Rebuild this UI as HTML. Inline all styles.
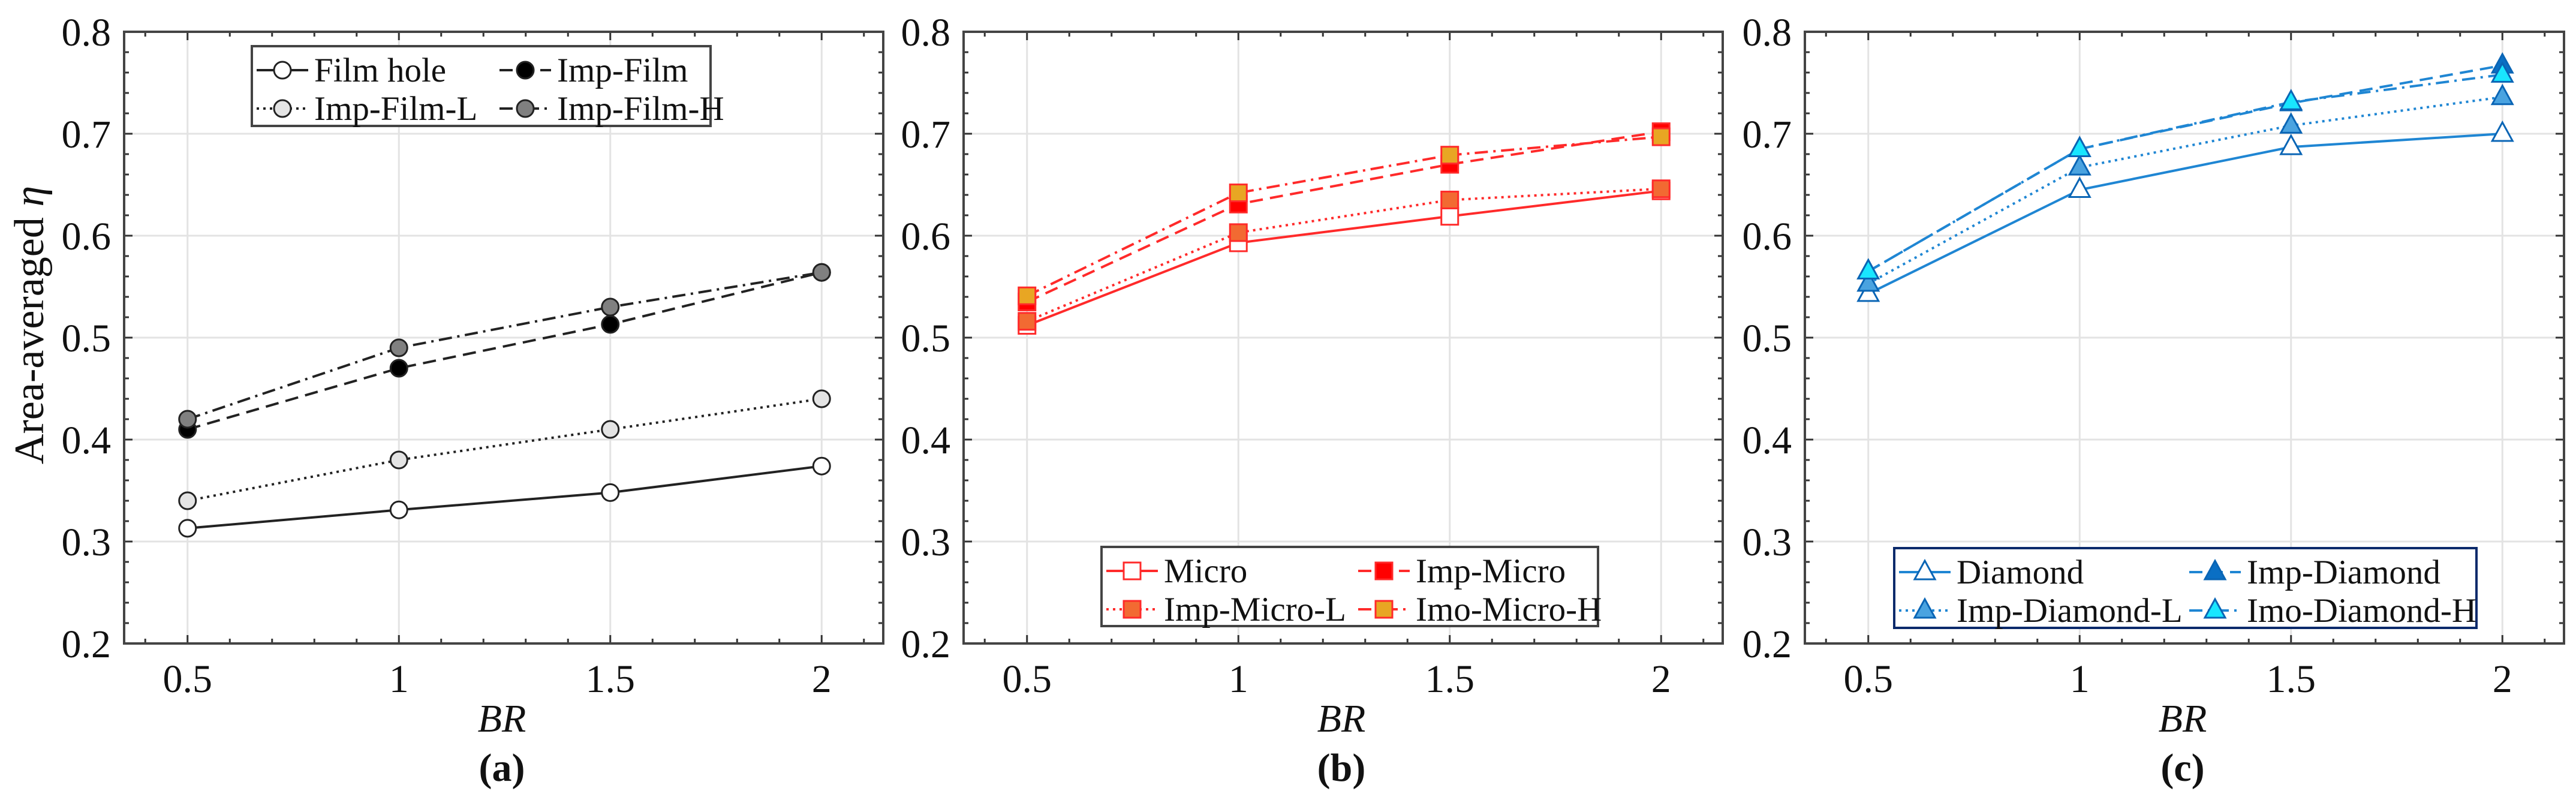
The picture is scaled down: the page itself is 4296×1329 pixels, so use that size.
<!DOCTYPE html>
<html><head><meta charset="utf-8">
<style>
html,body{margin:0;padding:0;background:#fff;}
svg{display:block;font-family:"Liberation Serif",serif;}
</style></head>
<body>
<svg id="fig" width="4296" height="1329" viewBox="0 0 4296 1329" xmlns="http://www.w3.org/2000/svg"></svg>
<script>
const xCats = [0.5, 1, 1.5, 2];
const yTicks = [0.2, 0.3, 0.4, 0.5, 0.6, 0.7, 0.8];
const xTickLabels = ["0.5", "1", "1.5", "2"];
const yTickLabels = ["0.2", "0.3", "0.4", "0.5", "0.6", "0.7", "0.8"];

const filmHole = [0.313, 0.331, 0.348, 0.374];
const impFilm = [0.410, 0.470, 0.513, 0.564];
const impFilmL = [0.340, 0.380, 0.410, 0.440];
const impFilmH = [0.420, 0.490, 0.530, 0.564];

const micro = [0.512, 0.593, 0.619, 0.644];
const impMicro = [0.535, 0.631, 0.670, 0.702];
const impMicroL = [0.516, 0.603, 0.635, 0.646];
const impMicroH = [0.541, 0.642, 0.679, 0.697];

const diamond = [0.543, 0.645, 0.687, 0.700];
const impDiamond = [0.565, 0.685, 0.730, 0.767];
const impDiamondL = [0.553, 0.667, 0.708, 0.736];
const impDiamondH = [0.565, 0.685, 0.731, 0.758];

const NS = "http://www.w3.org/2000/svg";
const svg = document.getElementById("fig");
function mk(tag, attrs, parent){
  const e = document.createElementNS(NS, tag);
  for (const k in attrs) e.setAttribute(k, attrs[k]);
  (parent||svg).appendChild(e);
  return e;
}
const TOP = 53, BOT = 1073, W = 1266;
const XMIN = 0.35, XMAX = 0.35 + W/705, YMIN = 0.2, YMAX = 0.8;
const DASH = {solid:"", dash:"22 12", dot:"4 7", dashdot:"22 9 4 9"};

function marker(g, shape, cx, cy, fill, stroke, name){
  let m;
  if (shape === "circle") m = mk("circle", {cx:cx, cy:cy, r:14, fill:fill, stroke:stroke, "stroke-width":3}, g);
  else if (shape === "square") m = mk("rect", {x:cx-14, y:cy-14, width:28, height:28, fill:fill, stroke:stroke, "stroke-width":3}, g);
  else m = mk("polygon", {points:`${cx},${cy-19} ${cx-17},${cy+12} ${cx+17},${cy+12}`, fill:fill, stroke:stroke, "stroke-width":3}, g);
  
  
  return m;
}

function panel(px, letter, series, legend, showYTitle){
  const g = mk("g", {});
  
  
  const xs = v => px + (v - XMIN) / (XMAX - XMIN) * W;
  const ys = v => BOT - (v - YMIN) / (YMAX - YMIN) * (BOT - TOP);
  yTicks.forEach(t => {
    const l = mk("line", {x1:px, x2:px+W, y1:ys(t), y2:ys(t), stroke:"#e3e3e3", "stroke-width":3}, g);
    
    
  });
  xCats.forEach(t => {
    const l = mk("line", {x1:xs(t), x2:xs(t), y1:TOP, y2:BOT, stroke:"#e3e3e3", "stroke-width":3}, g);
    
    
  });
  for (let v = 0.4; v < XMAX; v += 0.1) {
    const x = xs(v), major = Math.abs(v*2 - Math.round(v*2)) < 1e-6;
    const L = major ? 14 : 8;
    mk("line", {x1:x, x2:x, y1:BOT, y2:BOT-L, stroke:"#333", "stroke-width":3}, g);
    mk("line", {x1:x, x2:x, y1:TOP, y2:TOP+L, stroke:"#333", "stroke-width":3}, g);
  }
  for (let v = 0.22; v < 0.8; v += 0.02) {
    const y = ys(v), major = Math.abs(v*10 - Math.round(v*10)) < 1e-6;
    const L = major ? 14 : 8;
    mk("line", {x1:px, x2:px+L, y1:y, y2:y, stroke:"#333", "stroke-width":3}, g);
    mk("line", {x1:px+W, x2:px+W-L, y1:y, y2:y, stroke:"#333", "stroke-width":3}, g);
  }
  const box = mk("rect", {x:px, y:TOP, width:W, height:BOT-TOP, fill:"none", stroke:"#444", "stroke-width":4}, g);
  
  
  yTicks.forEach((t,i) => {
    const tx = mk("text", {x:px-22, y:ys(t)+23, "font-size":66, "text-anchor":"end", fill:"#111"}, g);
    tx.textContent = yTickLabels[i];
    
    
  });
  xCats.forEach((t,i) => {
    const tx = mk("text", {x:xs(t), y:1154, "font-size":66, "text-anchor":"middle", fill:"#111"}, g);
    tx.textContent = xTickLabels[i];
    
    
  });
  const xt = mk("text", {x:px+630, y:1220, "font-size":66, "text-anchor":"middle", "font-style":"italic", fill:"#111"}, g);
  xt.textContent = "BR";
  
  
  const cap = mk("text", {x:px+630, y:1302, "font-size":66, "text-anchor":"middle", "font-weight":"bold", fill:"#111"}, g);
  cap.textContent = "(" + letter + ")";
  
  
  if (showYTitle) {
    const yt = mk("text", {x:0, y:0, "font-size":70, "text-anchor":"middle", fill:"#111", transform:"translate(72,542) rotate(-90)"}, g);
    yt.textContent = "Area-averaged ";
    const ts = mk("tspan", {"font-style":"italic"}, yt);
    ts.textContent = "η";
    
    
  }
  series.forEach(s => {
    const sg = mk("g", {}, g);
    
    
    const pts = xCats.map((c,i) => xs(c) + "," + ys(s.vals[i])).join(" ");
    const pl = mk("polyline", {points:pts, fill:"none", stroke:s.line, "stroke-width":4, "stroke-dasharray":DASH[s.style]}, sg);
    
    
    xCats.forEach((c,i) => marker(sg, s.shape, xs(c), ys(s.vals[i]), s.fill, s.edge, 'point-' + s.id));
  });
  const lg = mk("g", {}, g);
  
  
  mk("rect", {x:legend.x, y:legend.y, width:legend.w, height:legend.h, fill:"#fff", stroke:legend.border, "stroke-width":4}, lg);
  series.forEach((s,i) => {
    const col = i % 2, row = Math.floor(i / 2);
    const ex = legend.x + 8 + col * legend.colW;
    const ey = legend.y + 40 + row * 64;
    const eg = mk("g", {}, lg);
    
    
    mk("line", {x1:ex, x2:ex+86, y1:ey, y2:ey, stroke:s.line, "stroke-width":4, "stroke-dasharray":DASH[s.style]}, eg);
    marker(eg, s.shape, ex+43, ey, s.fill, s.edge, 'legend-marker');
    const t = mk("text", {x:ex+96, y:ey+19, "font-size":57, fill:"#111"}, eg);
    t.textContent = s.label;
  });
}

const K = "#222";
panel(207, "a", [
  {id:"film-hole", label:"Film hole", vals:filmHole, line:K, style:"solid", shape:"circle", fill:"#fff", edge:K},
  {id:"imp-film", label:"Imp-Film", vals:impFilm, line:K, style:"dash", shape:"circle", fill:"#000", edge:K},
  {id:"imp-film-l", label:"Imp-Film-L", vals:impFilmL, line:K, style:"dot", shape:"circle", fill:"#e4e4e4", edge:K},
  {id:"imp-film-h", label:"Imp-Film-H", vals:impFilmH, line:K, style:"dashdot", shape:"circle", fill:"#808080", edge:K}
], {x:420, y:77, w:765, h:133, colW:405, border:"#444"}, true);

const R = "#ff2a2a";
panel(1607, "b", [
  {id:"micro", label:"Micro", vals:micro, line:R, style:"solid", shape:"square", fill:"#fff", edge:R},
  {id:"imp-micro", label:"Imp-Micro", vals:impMicro, line:R, style:"dash", shape:"square", fill:"#ff0000", edge:R},
  {id:"imp-micro-l", label:"Imp-Micro-L", vals:impMicroL, line:R, style:"dot", shape:"square", fill:"#f26a32", edge:R},
  {id:"imp-micro-h", label:"Imo-Micro-H", vals:impMicroH, line:R, style:"dashdot", shape:"square", fill:"#e8a623", edge:R}
], {x:1837, y:912, w:828, h:132, colW:420, border:"#444"}, false);

const B = "#1f86d3", BE = "#0a65b5";
panel(3010, "c", [
  {id:"diamond", label:"Diamond", vals:diamond, line:B, style:"solid", shape:"tri", fill:"#fff", edge:BE},
  {id:"imp-diamond", label:"Imp-Diamond", vals:impDiamond, line:B, style:"dash", shape:"tri", fill:"#0a6fc4", edge:BE},
  {id:"imp-diamond-l", label:"Imp-Diamond-L", vals:impDiamondL, line:B, style:"dot", shape:"tri", fill:"#4aa3e0", edge:BE},
  {id:"imp-diamond-h", label:"Imo-Diamond-H", vals:impDiamondH, line:B, style:"dashdot", shape:"tri", fill:"#19e6ff", edge:BE}
], {x:3159, y:914, w:971, h:133, colW:484, border:"#0b2a6b"}, false);
</script>
</body></html>
